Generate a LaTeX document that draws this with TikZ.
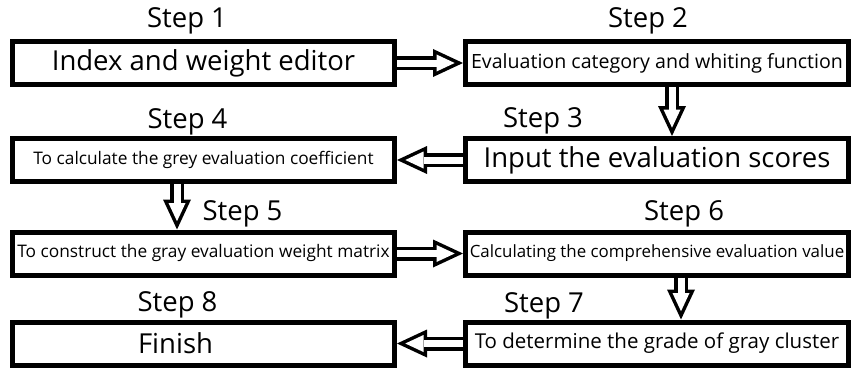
\documentclass[tikz,border=0pt]{standalone}
\usepackage{fontspec}
\setmainfont{Open Sans}
\usetikzlibrary{arrows.meta}

\begin{document}
\begin{tikzpicture}[x = 1pt, y = -1pt]
\tikzstyle{StepBox} = [shape = rectangle, draw, line width = 5pt, inner sep = 0pt, minimum height = 43pt]
\tikzstyle{LeftBox} = [StepBox, minimum width = 382pt]
\tikzstyle{RightBox} = [StepBox, minimum width = 383pt]
\tikzstyle{BigText} = [font = \fontsize{27.5pt}{30pt}\selectfont]
\tikzstyle{MidText} = [font = \fontsize{20pt}{24pt}\selectfont]
\tikzstyle{SmallText} = [font = \fontsize{17.3pt}{20pt}\selectfont]
\tikzstyle{StepLabel} = [BigText, anchor = base, inner sep = 0pt]
\tikzstyle{FlowArrow} = [line width = 14pt, -{Triangle[length = 30pt, width = 28pt, line width = 0pt]},
  postaction = {draw = white, line width = 7pt, shorten > = 8.3pt,
  -{Triangle[length = 18.2pt, width = 17pt, line width = 0pt, color = white]}}]
\useasboundingbox (0,0) rectangle (858,369);
\node[LeftBox, BigText] (b1) at (203.5,63) {Index and weight editor};
\node[RightBox, MidText, font = \fontsize{19.6pt}{24pt}\selectfont] (b2) at (657,63) {Evaluation category and whiting function};
\node[RightBox, BigText] (b3) at (657,160) {Input the evaluation scores};
\node[LeftBox, SmallText] (b4) at (203.5,160) {To calculate the grey evaluation coefficient};
\node[LeftBox, SmallText] (b5) at (203.5,253.5) {To construct the gray evaluation weight matrix};
\node[RightBox, SmallText, font = \fontsize{16.9pt}{20pt}\selectfont] (b6) at (657,253.5) {Calculating the comprehensive evaluation value};
\node[RightBox, MidText, font = \fontsize{20.5pt}{24pt}\selectfont] (b7) at (657,343.5) {To determine the grade of gray cluster};
\node[LeftBox, BigText] (b8) at (203.5,343.5) {\hspace*{-56pt}Finish};
\node[StepLabel] (s1) at (187,28) {Step 1};
\node[StepLabel] (s2) at (648,28) {Step 2};
\node[StepLabel] (s3) at (543,127) {Step 3};
\node[StepLabel] (s4) at (187.5,128) {Step 4};
\node[StepLabel] (s5) at (242.5,220) {Step 5};
\node[StepLabel] (s6) at (684,220) {Step 6};
\node[StepLabel] (s7) at (544,312) {Step 7};
\node[StepLabel] (s8) at (177.5,311) {Step 8};
\draw[FlowArrow] (b1) -- (b2);
\draw[FlowArrow] ([xshift = 15pt]b2.south) -- ([xshift = 15pt]b3.north);
\draw[FlowArrow] (b3) -- (b4);
\draw[FlowArrow] ([xshift = -26.5pt]b4.south) -- ([xshift = -26.5pt]b5.north);
\draw[FlowArrow] (b5) -- (b6);
\draw[FlowArrow] ([xshift = 24pt]b6.south) -- ([xshift = 24pt]b7.north);
\draw[FlowArrow] (b7) -- (b8);
\end{tikzpicture}
\end{document}
